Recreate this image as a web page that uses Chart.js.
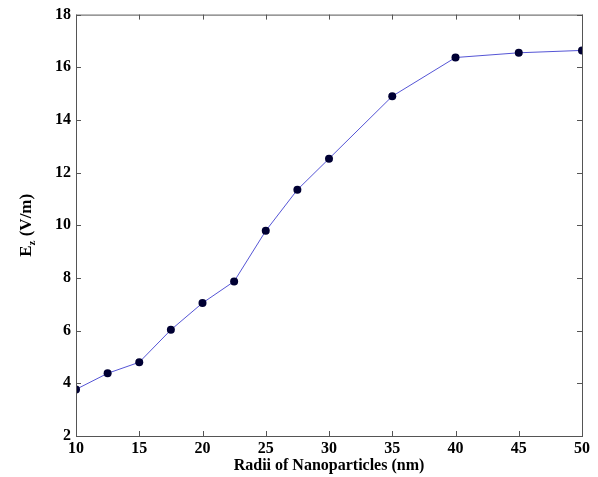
<!DOCTYPE html>
<html>
<head>
<meta charset="utf-8">
<script src="https://cdn.jsdelivr.net/npm/chart.js@4"></script>
<style>
  html, body { margin: 0; padding: 0; background: #fff; }
  #wrap { width: 598px; height: 477px; position: relative; }
</style>
</head>
<body>
<div id="wrap"><canvas id="chart"></canvas></div>
<script>
// === data ===
const radii = [10, 12.5, 15, 17.5, 20, 22.5, 25, 27.5, 30, 35, 40, 45, 50];
const ezValues = [3.77, 4.38, 4.8, 6.03, 7.05, 7.87, 9.79, 11.35, 12.53, 14.9, 16.37, 16.55, 16.64];
const xTicks = [10, 15, 20, 25, 30, 35, 40, 45, 50];
const yTicks = [2, 4, 6, 8, 10, 12, 14, 16, 18];

const serif = "'Liberation Serif', 'Times New Roman', serif";

// box + inward ticks on all four sides, plus the y title with a subscript
const framePlugin = {
  id: 'frame',
  afterDraw(chart) {
    const { ctx, chartArea: a, scales } = chart;
    ctx.save();
    ctx.strokeStyle = '#555';
    ctx.lineWidth = 1;
    ctx.strokeRect(a.left + 0.5, a.top + 0.5, a.right - a.left, a.bottom - a.top);
    ctx.beginPath();
    const len = 5;
    xTicks.forEach(v => {
      const px = Math.round(scales.x.getPixelForValue(v)) + 0.5;
      ctx.moveTo(px, a.bottom); ctx.lineTo(px, a.bottom - len);
      ctx.moveTo(px, a.top); ctx.lineTo(px, a.top + len);
    });
    yTicks.forEach(v => {
      const py = Math.round(scales.y.getPixelForValue(v)) + 0.5;
      ctx.moveTo(a.left, py); ctx.lineTo(a.left + len, py);
      ctx.moveTo(a.right, py); ctx.lineTo(a.right - len, py);
    });
    ctx.stroke();

    // y title "Ez (V/m)"
    ctx.translate(25, (a.top + a.bottom) / 2);
    ctx.rotate(-Math.PI / 2);
    ctx.fillStyle = '#000';
    ctx.textBaseline = 'alphabetic';
    const big = 'bold 17px ' + serif, small = 'bold 11px ' + serif;
    ctx.font = big; const wE = ctx.measureText('E').width;
    ctx.font = small; const wz = ctx.measureText('z').width;
    ctx.font = big; const wR = ctx.measureText(' (V/m)').width;
    let x0 = -(wE + wz + wR) / 2;
    ctx.font = big; ctx.fillText('E', x0, 6);
    ctx.font = small; ctx.fillText('z', x0 + wE, 10);
    ctx.font = big; ctx.fillText(' (V/m)', x0 + wE + wz, 6);
    ctx.restore();
  }
};

new Chart(document.getElementById('chart'), {
  type: 'line',
  data: {
    datasets: [{
      data: radii.map((r, i) => ({ x: r, y: ezValues[i] })),
      borderColor: '#5555d5',
      borderWidth: 1,
      pointRadius: 4,
      pointBackgroundColor: '#000033',
      pointBorderColor: '#000033',
      pointBorderWidth: 0,
      tension: 0
    }]
  },
  options: {
    responsive: true,
    maintainAspectRatio: false,
    animation: false,
    layout: { padding: { top: 13, right: 16, left: 0, bottom: 0 } },
    plugins: { legend: { display: false }, tooltip: { enabled: false } },
    scales: {
      x: {
        type: 'linear', min: 10, max: 50,
        afterBuildTicks: s => { s.ticks = xTicks.map(v => ({ value: v })); },
        afterFit: s => { s.height = 41; },
        grid: { display: false, drawTicks: false, tickLength: 0 }, border: { display: false },
        ticks: { color: '#000', padding: 3, font: { family: serif, size: 16, weight: 'bold' } },
        title: {
          display: true, text: 'Radii of Nanoparticles (nm)', color: '#000',
          font: { family: serif, size: 16, weight: 'bold' }, padding: { top: 0, bottom: 2 }
        }
      },
      y: {
        type: 'linear', min: 2, max: 18,
        afterBuildTicks: s => { s.ticks = yTicks.map(v => ({ value: v })); },
        afterFit: s => { s.width = 76; },
        grid: { display: false, drawTicks: false, tickLength: 0 }, border: { display: false },
        ticks: { color: '#000', padding: 5, font: { family: serif, size: 16, weight: 'bold' } }
      }
    }
  },
  plugins: [framePlugin]
});
</script>
</body>
</html>
